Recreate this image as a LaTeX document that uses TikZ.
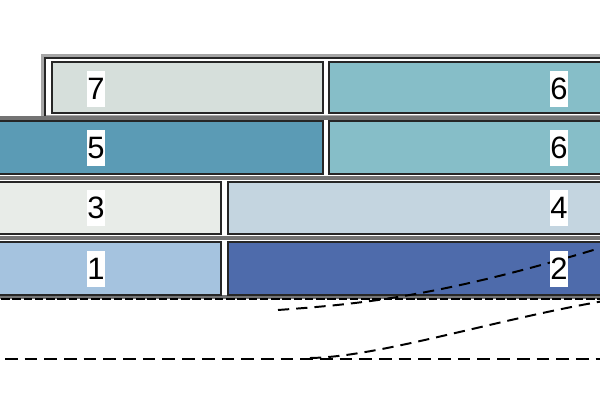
\documentclass[tikz,border=0pt]{standalone}
\usepackage{fontspec}
\setmainfont{Liberation Sans}
\definecolor{cSeven}{RGB}{214,223,219}
\definecolor{cSix}{RGB}{134,190,200}
\definecolor{cFive}{RGB}{91,155,181}
\definecolor{cThree}{RGB}{232,236,232}
\definecolor{cFour}{RGB}{196,213,224}
\definecolor{cOne}{RGB}{165,195,223}
\definecolor{cTwo}{RGB}{78,107,171}
\tikzset{
  cell/.style={draw=black!85, line width=1.3pt},
  band/.style={draw=black!55, line width=2.6pt},
  num/.style={fill=white, inner sep=0pt, minimum height=0.9cm,
    font=\fontsize{22}{22}\selectfont},
  trace/.style={line width=1.4pt, dash pattern=on 8pt off 5pt}
}
\begin{document}
\begin{tikzpicture}[x=0.025cm, y=-0.025cm]
  \clip (0,0) rectangle (600,400);
  % top frame and row separators
  \draw[band, draw=gray!70, fill=white] (43,56) rectangle (620,117);
  \draw[black!85, line width=0.8pt] (45,117) -- (45,58) -- (620,58);
  \draw[band] (-10,118) -- (620,118);
  \draw[band] (-10,178) -- (620,178);
  \draw[band] (-10,238) -- (620,238);
  \draw[band] (-10,297) -- (620,297);
  \draw[line width=1.8pt, dash pattern=on 6pt off 2pt] (-10,299) -- (620,299);
  % cells
  \draw[cell, fill=cSeven] (52,62) rectangle (323,113);
  \draw[cell, fill=cSix] (329,62) rectangle (620,113);
  \draw[cell, fill=cFive] (-10,121) rectangle (323,174);
  \draw[cell, fill=cSix] (329,121) rectangle (620,174);
  \draw[cell, fill=cThree] (-10,182) rectangle (221,234);
  \draw[cell, fill=cFour] (228,182) rectangle (620,234);
  \draw[cell, fill=cOne] (-10,242) rectangle (221,295);
  \draw[cell, fill=cTwo] (228,242) rectangle (620,295);
  % dashed traces
  \coordinate (a0) at (278,310);
  \coordinate (a1) at (610,245);
  \coordinate (b0) at (310,358);
  \coordinate (b1) at (610,300);
  \coordinate (l0) at (5,359);
  \coordinate (l1) at (610,359);
  \draw[trace] (a0) .. controls (360,304) and (440,297) .. (a1);
  \draw[trace] (b0) .. controls (380,357) and (500,318) .. (b1);
  \draw[trace, line width=1.8pt, dash pattern=on 9pt off 5pt] (l0) -- (l1);
  % labels
  \node[num] (n7) at (96,89) {7};
  \node[num] (n6a) at (559,89) {6};
  \node[num] (n5) at (96,148) {5};
  \node[num] (n6b) at (559,148) {6};
  \node[num] (n3) at (96,208) {3};
  \node[num] (n4) at (559,208) {4};
  \node[num] (n1) at (96,269) {1};
  \node[num] (n2) at (559,269) {2};
\end{tikzpicture}
\end{document}
